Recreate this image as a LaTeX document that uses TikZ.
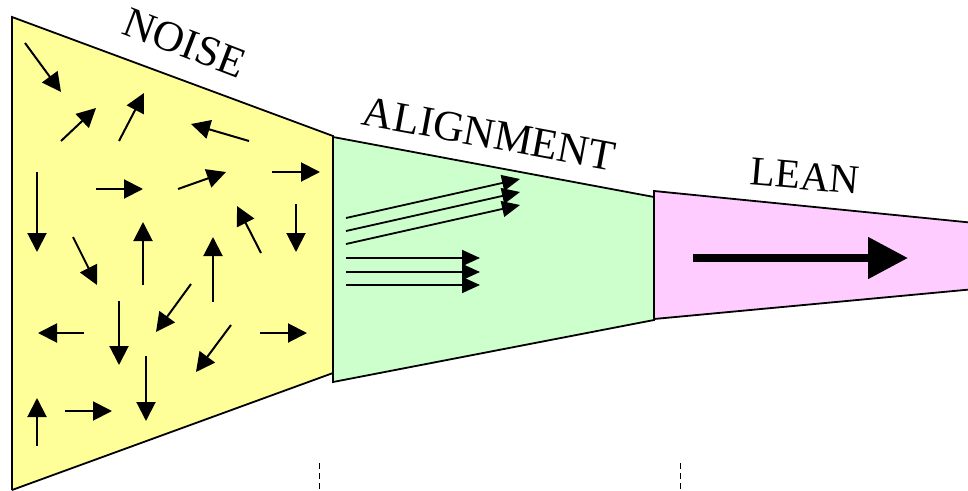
\documentclass[tikz,border=0pt]{standalone}
\usepackage{fontspec}
\setmainfont{Liberation Serif}
\usetikzlibrary{arrows.meta}
\definecolor{noisefill}{HTML}{FFFF99}
\definecolor{alignfill}{HTML}{CCFFCC}
\definecolor{leanfill}{HTML}{FFCCFF}
\begin{document}
\begin{tikzpicture}[x=1pt,y=-1pt,
  stage/.style={draw=black,line width=1.8pt,line join=miter},
  vec/.style={line width=2pt,-{Triangle[length=19pt,width=19pt]}},
  thinvec/.style={line width=1.8pt,-{Triangle[length=18pt,width=16pt]}},
  bigvec/.style={line width=8pt,-{Triangle[length=40pt,width=40pt]}},
  lbl/.style={inner sep=0pt},
  tick/.style={line width=1pt,dash pattern=on 6pt off 4pt}]
\useasboundingbox (0,0) rectangle (968,490);
% stages
\fill[noisefill] (12,17) -- (333,136) -- (333,373) -- (12,490) -- cycle;
\draw[stage] (12,490) -- (12,17) -- (333,136) -- (333,373) -- (12,490);
\draw[stage,fill=alignfill] (333,137) -- (654,197) -- (654,320) -- (333,382) -- cycle;
\fill[leanfill] (654,191) -- (975,223) -- (975,289) -- (654,319) -- cycle;
\draw[stage] (975,223) -- (654,191) -- (654,319) -- (975,289);
% labels
\node[lbl,rotate=-21,font=\fontsize{43}{45}\selectfont] (noise) at (185,43) {NOISE};
\node[lbl,rotate=-10.5,font=\fontsize{43}{45}\selectfont] (align) at (489,134) {ALIGNMENT};
\node[lbl,rotate=-5,font=\fontsize{41}{43}\selectfont] (lean) at (805,176) {LEAN};
% noise arrows
\draw[vec] (25,43) -- (61,92);
\draw[vec] (61,141) -- (96,108);
\draw[vec] (119,141) -- (144,93);
\draw[vec] (249,141) -- (191,124);
\draw[vec] (37,172) -- (37,252);
\draw[vec] (96,189) -- (143,189);
\draw[vec] (178,189) -- (226,172);
\draw[vec] (272,172) -- (320,172);
\draw[vec] (261,253) -- (237,206);
\draw[vec] (296,204) -- (296,252);
\draw[vec] (143,285) -- (143,222);
\draw[vec] (73,237) -- (97,285);
\draw[vec] (213,302) -- (213,237);
\draw[vec] (191,284) -- (156,332);
\draw[vec] (84,333) -- (38,333);
\draw[vec] (119,301) -- (119,365);
\draw[vec] (231,325) -- (196,372);
\draw[vec] (260,333) -- (307,333);
\draw[vec] (37,446) -- (37,398);
\draw[vec] (65,411) -- (112,411);
\draw[vec] (146,356) -- (146,421);
% alignment arrows
\draw[thinvec] (346,218) -- (520,179);
\draw[thinvec] (346,231) -- (520,192);
\draw[thinvec] (346,244) -- (520,205);
\draw[thinvec] (346,258) -- (480,258);
\draw[thinvec] (346,272) -- (480,272);
\draw[thinvec] (346,285) -- (480,285);
% lean arrow
\draw[bigvec] (693,258) -- (908,258);
% ticks
\coordinate (t1a) at (319,463); \coordinate (t1b) at (319,492);
\coordinate (t2a) at (680,463); \coordinate (t2b) at (680,492);
\draw[tick] (t1a) -- (t1b);
\draw[tick] (t2a) -- (t2b);
\end{tikzpicture}
\end{document}
